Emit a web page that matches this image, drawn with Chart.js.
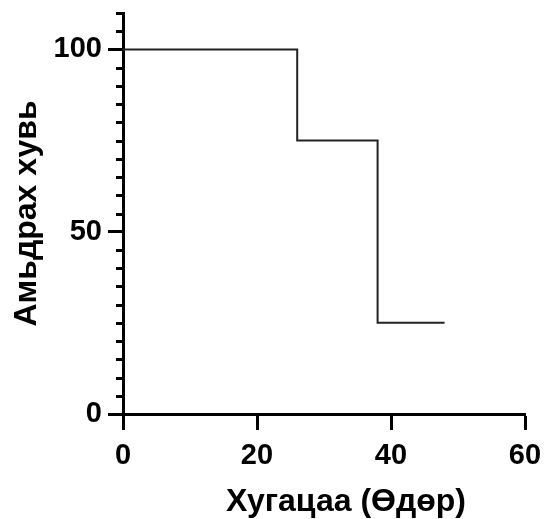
<!DOCTYPE html>
<html>
<head>
<meta charset="utf-8">
<script src="https://cdn.jsdelivr.net/npm/chart.js@4"></script>
<style>
    body { margin: 0; background: #fff; }
    #wrap { width: 544px; height: 519px; }
</style>
</head>
<body>
<div id="wrap"><canvas id="survivalChart" width="544" height="519"></canvas></div>
<script>
// survival data (time in days, percent survival)
var days = [0, 26, 38, 48];
var survival = [100, 75, 25, 25];

// axis ticks
var xTicks = [0, 20, 40, 60];
var yTicks = [0, 50, 100];
var yMinorStep = 5;

var xTitle = 'Хугацаа (Өдөр)';
var yTitle = 'Амьдрах хувь';

document.addEventListener('DOMContentLoaded', function () {
    var ctx = document.getElementById('survivalChart').getContext('2d');

    var points = days.map(function (d, i) {
        return { x: d, y: survival[i] };
    });

    // small ticks on the y axis between the labelled ones
    var minorTicks = {
        id: 'minorTicks',
        afterDraw: function (chart) {
            var c = chart.ctx;
            var y = chart.scales.y;
            var left = chart.chartArea.left;
            c.save();
            c.strokeStyle = '#000';
            c.lineWidth = 3;
            for (var v = y.min; v <= y.max; v += yMinorStep) {
                if (yTicks.indexOf(v) !== -1) continue;
                var py = Math.round(y.getPixelForValue(v)) + 0.5;
                c.beginPath();
                c.moveTo(left - 7, py);
                c.lineTo(left, py);
                c.stroke();
            }
            c.restore();
        }
    };

    // x title, drawn a bit right of the axis centre like the original
    var xTitlePlugin = {
        id: 'xTitlePlugin',
        afterDraw: function (chart) {
            var c = chart.ctx;
            var x = chart.scales.x;
            c.save();
            c.font = 'bold 32px "Liberation Sans", Arial, sans-serif';
            c.fillStyle = '#000';
            c.textAlign = 'center';
            c.textBaseline = 'middle';
            c.fillText(xTitle, (x.left + x.right) / 2 + 22, 502);
            c.restore();
        }
    };

    var tickFont = { family: '"Liberation Sans", Arial, sans-serif', size: 29, weight: 'bold' };

    new Chart(ctx, {
        type: 'line',
        data: {
            datasets: [{
                data: points,
                stepped: true,
                borderColor: '#222',
                borderWidth: 2,
                pointRadius: 0,
                fill: false
            }]
        },
        options: {
            responsive: false,
            animation: false,
            layout: { padding: { top: 13, right: 19, left: 0, bottom: 0 } },
            plugins: {
                legend: { display: false },
                tooltip: { enabled: false }
            },
            scales: {
                x: {
                    type: 'linear',
                    min: 0,
                    max: 60,
                    afterBuildTicks: function (s) {
                        s.ticks = xTicks.map(function (v) { return { value: v }; });
                    },
                    afterFit: function (s) {
                        s.height = 105;
                        s.paddingLeft = 0; s.paddingRight = 0;
                        s.paddingTop = 0; s.paddingBottom = 0;
                    },
                    grid: {
                        drawOnChartArea: false,
                        tickLength: 16,
                        tickWidth: 3,
                        tickColor: '#000'
                    },
                    border: { display: true, width: 3, color: '#000' },
                    ticks: { font: tickFont, color: '#000', padding: 9, maxRotation: 0 },
                    title: { display: false }
                },
                y: {
                    type: 'linear',
                    min: 0,
                    max: 110,
                    afterBuildTicks: function (s) {
                        s.ticks = yTicks.map(function (v) { return { value: v }; });
                    },
                    afterFit: function (s) {
                        s.width = 123;
                        s.paddingLeft = 0; s.paddingRight = 0;
                        s.paddingTop = 0; s.paddingBottom = 0;
                    },
                    grid: {
                        drawOnChartArea: false,
                        tickLength: 15,
                        tickWidth: 3,
                        tickColor: '#000'
                    },
                    border: { display: true, width: 3, color: '#000' },
                    ticks: { font: tickFont, color: '#000', padding: 6 },
                    title: {
                        display: true,
                        text: yTitle,
                        color: '#000',
                        font: { family: '"Liberation Sans", Arial, sans-serif', size: 32, weight: 'bold' },
                        padding: { top: 8, bottom: 0 }
                    }
                }
            }
        },
        plugins: [minorTicks, xTitlePlugin]
    });
});
</script>
</body>
</html>
